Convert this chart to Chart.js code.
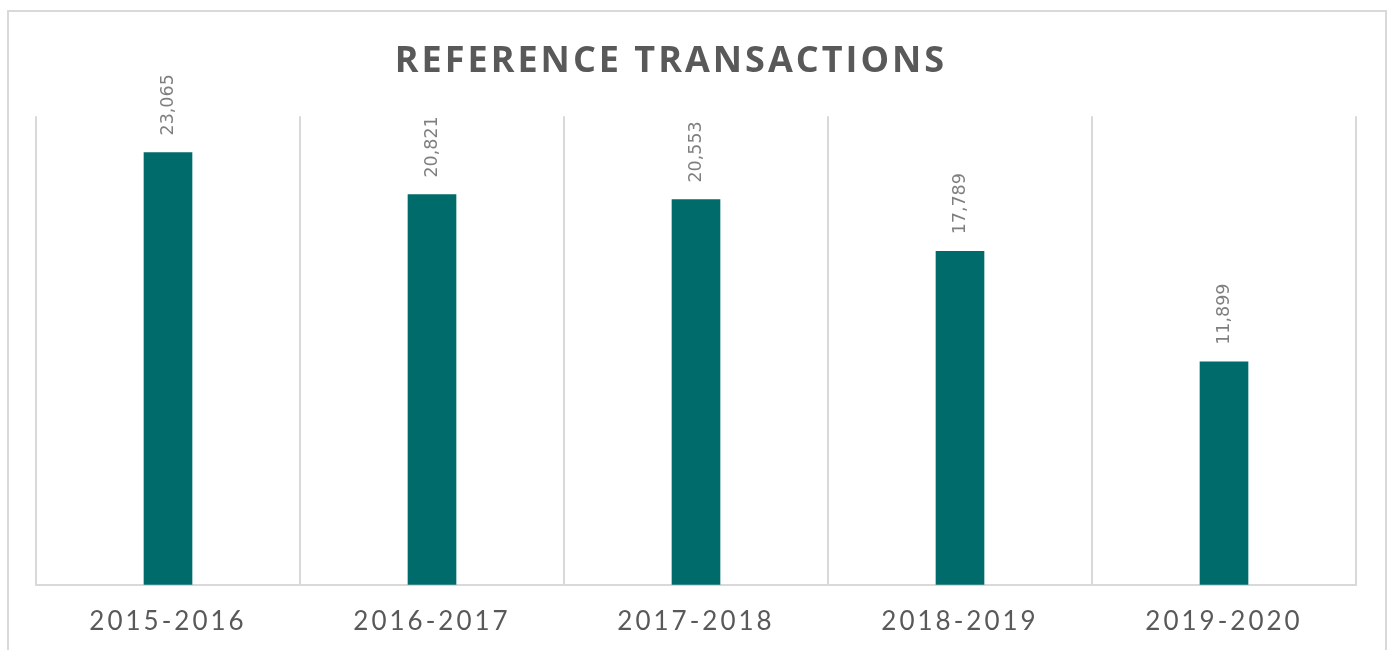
<!DOCTYPE html>
<html>
<head>
<meta charset="utf-8">
<script src="https://cdn.jsdelivr.net/npm/chart.js@4"></script>
<style>
    body { margin: 0; background: #fff; }
    #wrap { position: relative; width: 1395px; height: 650px; overflow: hidden; }
    #frame { position: absolute; left: 7px; top: 10px; width: 1376px; height: 700px; border: 2px solid #d9d9d9; }
    #myChart { position: absolute; left: 0; top: 0; }
</style>
</head>
<body>
<div id="wrap">
    <div id="frame"></div>
    <canvas id="myChart" width="1395" height="650"></canvas>
</div>
<script>
const chartTitle = 'REFERENCE TRANSACTIONS';
const years = ['2015-2016', '2016-2017', '2017-2018', '2018-2019', '2019-2020'];
const transactions = [23065, 20821, 20553, 17789, 11899];

// letter spacing for the title and the category labels,
// and the title sits a little left of centre in the original
const spacingPlugin = {
    id: 'spacing',
    afterLayout(chart) {
        if (chart.titleBlock) {
            chart.titleBlock.left -= 25;
            chart.titleBlock.right -= 25;
        }
    },
    beforeDraw(chart) {
        chart.ctx.letterSpacing = '3px';
    }
};

// rotated value labels above each bar
const valueLabels = {
    id: 'valueLabels',
    afterDatasetsDraw(chart) {
        const ctx = chart.ctx;
        const meta = chart.getDatasetMeta(0);
        ctx.save();
        ctx.letterSpacing = '0px';
        ctx.font = '17.5px "DejaVu Sans"';
        ctx.fillStyle = '#7f7f7f';
        ctx.textAlign = 'left';
        ctx.textBaseline = 'middle';
        meta.data.forEach((bar, i) => {
            ctx.save();
            ctx.translate(bar.x, bar.y - 17);
            ctx.rotate(-Math.PI / 2);
            ctx.fillText(transactions[i].toLocaleString('en-US'), 0, 0);
            ctx.restore();
        });
        ctx.restore();
    }
};

const data = {
    labels: years,
    datasets: [{
        label: 'Reference transactions',
        data: transactions,
        backgroundColor: '#006b6b',
        barThickness: 48
    }]
};

const config = {
    type: 'bar',
    data: data,
    options: {
        responsive: false,
        animation: false,
        layout: {
            padding: { left: 36, right: 39, top: 0, bottom: -8 }
        },
        plugins: {
            legend: { display: false },
            tooltip: { enabled: false },
            title: {
                display: true,
                text: chartTitle,
                color: '#595959',
                font: { family: 'Open Sans', size: 36, weight: 'bold', lineHeight: 1.2 },
                padding: { top: 40, bottom: 33 }
            }
        },
        scales: {
            x: {
                grid: {
                    offset: true,
                    color: '#d9d9d9',
                    lineWidth: 2,
                    drawTicks: false
                },
                border: { display: true, color: '#d9d9d9', width: 2 },
                ticks: {
                    color: '#595959',
                    font: { family: 'Lato', size: 26 },
                    padding: 21,
                    autoSkip: false,
                    maxRotation: 0
                }
            },
            y: {
                display: false,
                min: 0,
                max: 25000
            }
        }
    },
    plugins: [spacingPlugin, valueLabels]
};

const myChart = new Chart(document.getElementById('myChart'), config);
</script>
</body>
</html>
